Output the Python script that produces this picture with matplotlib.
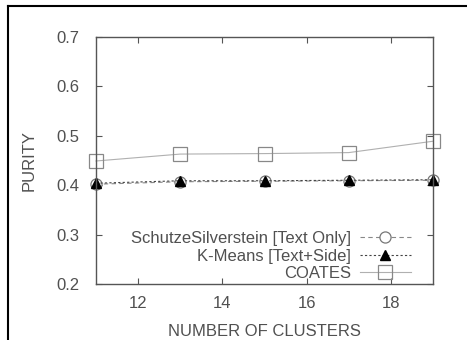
import matplotlib
matplotlib.use("Agg")
import matplotlib.pyplot as plt
from matplotlib.lines import Line2D

plt.rcParams['font.family'] = ['Liberation Sans', 'DejaVu Sans']

clusters = [11, 13, 15, 17, 19]
schutze = [0.402, 0.407, 0.408, 0.409, 0.410]
kmeans = [0.404, 0.409, 0.409, 0.410, 0.411]
coates = [0.449, 0.463, 0.464, 0.466, 0.489]

x_ticks = [12, 14, 16, 18]
y_ticks = [0.2, 0.3, 0.4, 0.5, 0.6, 0.7]

labels = ["SchutzeSilverstein [Text Only]", "K-Means [Text+Side]", "COATES"]

text_color = "#505050"
fs = 12

fig = plt.figure(figsize=(4.67, 3.40), dpi=100)
ax = fig.add_axes([96 / 467, 1 - 284 / 340, (433 - 96) / 467, (284 - 37) / 340])

ax.plot(clusters, schutze, linestyle=(0, (4, 3)), color="#888888", linewidth=0.8,
        marker="o", markersize=8, markerfacecolor="white", markeredgecolor="#777777",
        markeredgewidth=0.9, label=labels[0], clip_on=False)
ax.plot(clusters, kmeans, linestyle=(0, (2, 2)), color="#444444", linewidth=0.8,
        marker="^", markersize=7.5, markerfacecolor="black", markeredgecolor="black",
        label=labels[1], clip_on=False)
ax.plot(clusters, coates, linestyle="-", color="#b0b0b0", linewidth=0.8,
        marker="s", markersize=10, markerfacecolor="none", markeredgecolor="#888888",
        markeredgewidth=0.9, label=labels[2], clip_on=False)

ax.set_xlim(11, 19)
ax.set_ylim(0.2, 0.7)
ax.set_xticks(x_ticks)
ax.set_yticks(y_ticks)
ax.set_yticklabels([f"{v:.1f}" for v in y_ticks])
ax.tick_params(direction="in", top=True, right=True, length=4, width=0.8,
               colors="#555555", labelcolor=text_color, labelsize=fs)
ax.tick_params(axis="x", pad=9)
ax.tick_params(axis="y", pad=12)
for s in ax.spines.values():
    s.set_color("#555555")
    s.set_linewidth(1.0)

ax.set_xlabel("NUMBER OF CLUSTERS", color=text_color, fontsize=fs, labelpad=9)
ax.set_ylabel("PURITY", color=text_color, fontsize=fs, labelpad=14)

leg = ax.legend(loc="lower right", frameon=False, markerfirst=False, fontsize=fs,
                handlelength=3.1, handletextpad=0.5, labelspacing=0.15,
                borderaxespad=0.0, bbox_to_anchor=(0.955, -0.015))
for t in leg.get_texts():
    t.set_color(text_color)

# page border lines
fig.add_artist(Line2D([8 / 467, 1.0], [1 - 6 / 340, 1 - 6 / 340], color="black", linewidth=1.5))
fig.add_artist(Line2D([8 / 467, 8 / 467], [0.0, 1 - 6 / 340], color="black", linewidth=1.5))

fig.savefig("out.png", dpi=100)
